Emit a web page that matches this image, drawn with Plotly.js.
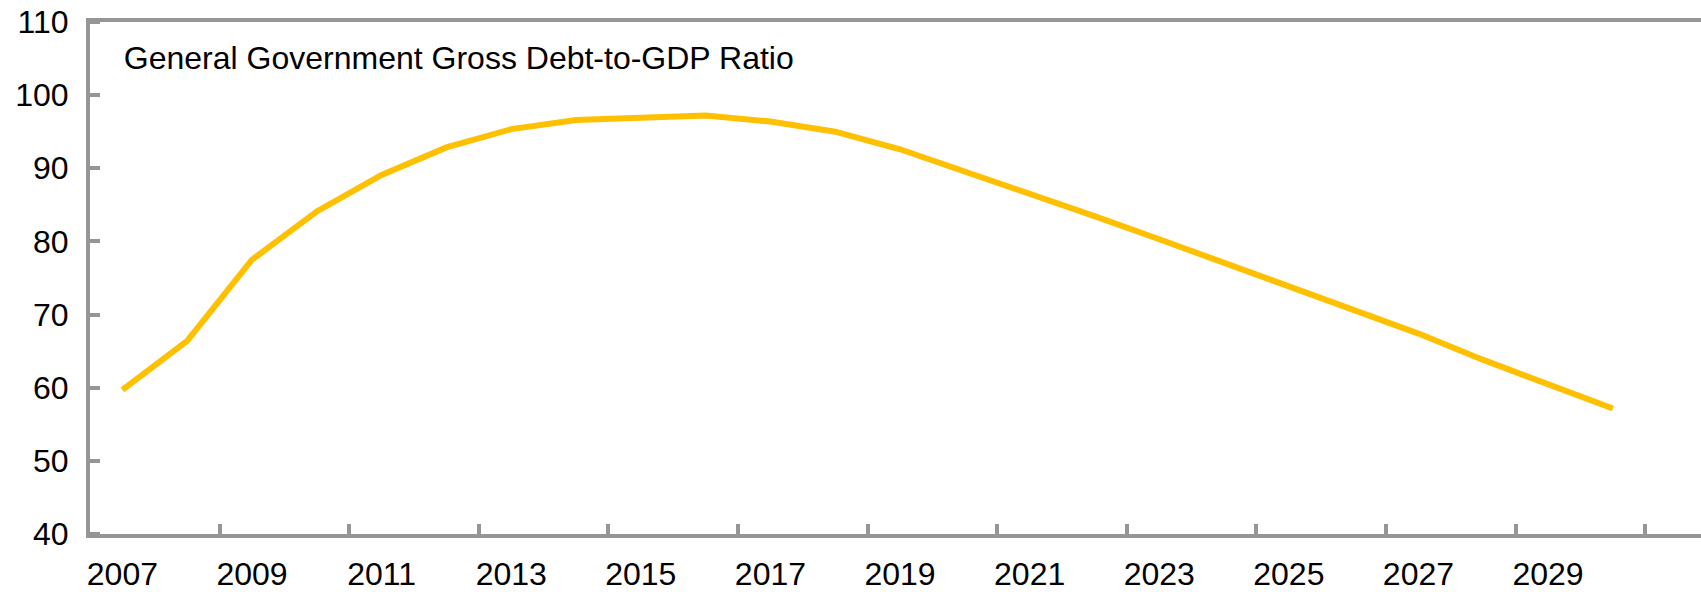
<!DOCTYPE html>
<html>
<head>
<meta charset="utf-8">
<script src="https://cdn.plot.ly/plotly-3.0.1.min.js"></script>
<style>
  html, body { margin: 0; padding: 0; background: #ffffff; }
  #chart { width: 1701px; height: 592px; }
</style>
</head>
<body>
<div id="chart"></div>
<script>
// Data
const years = [2007, 2008, 2009, 2010, 2011, 2012, 2013, 2014, 2015, 2016, 2017, 2018,
               2019, 2020, 2021, 2022, 2023, 2024, 2025, 2026, 2027, 2028, 2029, 2030];
const debtRatio = [59.7, 66.4, 77.5, 84.1, 89.1, 92.85, 95.35, 96.6, 96.9, 97.2, 96.4, 95.0,
                   92.6, 89.6, 86.4, 83.45, 80.3, 77.1, 73.8, 70.6, 67.4, 63.8, 60.5, 57.15];
const xLabelYears = [2007, 2009, 2011, 2013, 2015, 2017, 2019, 2021, 2023, 2025, 2027, 2029];
const xTickBoundaries = [2008.5, 2010.5, 2012.5, 2014.5, 2016.5, 2018.5, 2020.5, 2022.5,
                         2024.5, 2026.5, 2028.5, 2030.5];
const yTicks = [40, 50, 60, 70, 80, 90, 100, 110];
const chartTitle = "General Government Gross Debt-to-GDP Ratio";

const FONT = "Liberation Sans, Arial, sans-serif";
const AXIS_GRAY = "#969696";
const CLEAR = "rgba(0,0,0,0)";
const xRange = [2006.5, 2031.36];

const trace = {
  x: years,
  y: debtRatio,
  type: "scatter",
  mode: "lines",
  line: { color: "#FFC000", width: 6 },
  hoverinfo: "x+y",
  showlegend: false
};

const layout = {
  width: 1701,
  height: 592,
  margin: { l: 90, r: 0, t: 22, b: 58, pad: 0 },
  paper_bgcolor: "#ffffff",
  plot_bgcolor: "#ffffff",
  font: { family: FONT, size: 32, color: "#000000" },
  title: {
    text: chartTitle,
    font: { family: FONT, size: 32, color: "#000000" },
    xref: "paper", yref: "paper",
    x: 0.021, xanchor: "left",
    y: 0.93, yanchor: "middle"
  },
  xaxis: {
    range: xRange,
    tickmode: "array",
    tickvals: xLabelYears,
    ticktext: xLabelYears.map(String),
    ticks: "outside",
    ticklen: 9,
    tickwidth: 1,
    tickcolor: CLEAR,
    tickfont: { family: FONT, size: 32, color: "#000000" },
    minor: {
      tickmode: "array",
      tickvals: xTickBoundaries,
      ticks: "inside",
      ticklen: 10,
      tickwidth: 4,
      tickcolor: AXIS_GRAY,
      showgrid: false
    },
    showline: true,
    linecolor: AXIS_GRAY,
    linewidth: 4,
    mirror: true,
    showgrid: false,
    zeroline: false,
    fixedrange: true
  },
  yaxis: {
    range: [40, 110],
    tickmode: "array",
    tickvals: yTicks,
    ticks: "outside",
    ticklen: 11,
    tickwidth: 1,
    tickcolor: CLEAR,
    tickfont: { family: FONT, size: 32, color: "#000000" },
    minor: {
      tickmode: "array",
      tickvals: yTicks,
      ticks: "inside",
      ticklen: 10,
      tickwidth: 4,
      tickcolor: AXIS_GRAY,
      showgrid: false
    },
    showline: true,
    linecolor: AXIS_GRAY,
    linewidth: 4,
    showgrid: false,
    zeroline: false,
    fixedrange: true
  },
  showlegend: false
};

Plotly.newPlot("chart", [trace], layout, { displayModeBar: false, staticPlot: true });
</script>
</body>
</html>
